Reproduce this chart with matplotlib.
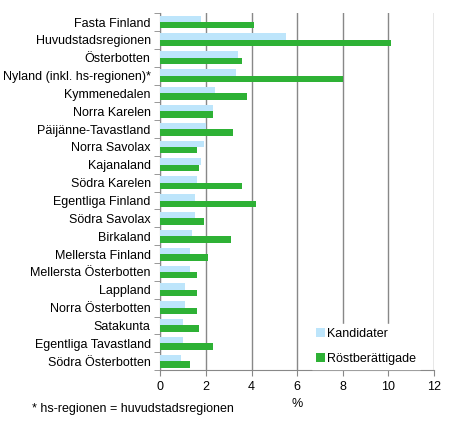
import matplotlib.pyplot as plt
import numpy as np

plt.rcParams['font.family'] = ['Liberation Sans', 'DejaVu Sans']

regions = ["Fasta Finland", "Huvudstadsregionen", "Österbotten", "Nyland (inkl. hs-regionen)*",
           "Kymmenedalen", "Norra Karelen", "Päijänne-Tavastland", "Norra Savolax", "Kajanaland",
           "Södra Karelen", "Egentliga Finland", "Södra Savolax", "Birkaland", "Mellersta Finland",
           "Mellersta Österbotten", "Lappland", "Norra Österbotten", "Satakunta",
           "Egentliga Tavastland", "Södra Österbotten"]
kandidater = [1.8, 5.5, 3.4, 3.3, 2.4, 2.3, 2.0, 1.9, 1.8, 1.6, 1.5, 1.5, 1.4, 1.3, 1.3, 1.1, 1.1, 1.0, 1.0, 0.9]
rostberattigade = [4.1, 10.1, 3.6, 8.0, 3.8, 2.3, 3.2, 1.6, 1.7, 3.6, 4.2, 1.9, 3.1, 2.1, 1.6, 1.6, 1.6, 1.7, 2.3, 1.3]

fig = plt.figure(figsize=(4.65, 4.23), dpi=100)
ax = fig.add_axes([0.345, 0.125, 0.588, 0.844])

y = np.arange(len(regions))
h = 0.36
ax.barh(y - h / 2, kandidater, height=h, color='#bde5fb', label='Kandidater', zorder=3)
ax.barh(y + h / 2, rostberattigade, height=h, color='#2eb135', label='Röstberättigade', zorder=3)

ax.set_ylim(len(regions) - 0.5, -0.5)
ax.set_xlim(0, 12)
ax.set_xticks(range(0, 13, 2))
ax.set_yticks(y)
ax.set_yticklabels(regions, fontsize=9)
ax.set_yticks(np.arange(-0.5, len(regions)), minor=True)
ax.tick_params(axis='y', which='major', length=0, pad=7)
ax.tick_params(axis='y', which='minor', length=4, color='#888888')
ax.tick_params(axis='x', labelsize=9, length=4, color='#888888')
ax.xaxis.grid(True, color='#888888', linewidth=1, zorder=0)
for s in ['top', 'right']:
    ax.spines[s].set_visible(False)
for s in ['left', 'bottom']:
    ax.spines[s].set_color('#888888')
ax.set_xlabel('%', fontsize=9, labelpad=4)

leg = ax.legend(loc='lower left', bbox_to_anchor=(0.553, 0.003), fontsize=9, frameon=True,
                handlelength=0.7, handleheight=0.7, handletextpad=0.15, labelspacing=1.0,
                borderaxespad=0, borderpad=0.35, fancybox=False)
leg.get_frame().set_edgecolor('white')
leg.get_frame().set_alpha(1)

fig.text(0.068, 0.027, '* hs-regionen = huvudstadsregionen', fontsize=9)

fig.savefig('out.png', dpi=100)
